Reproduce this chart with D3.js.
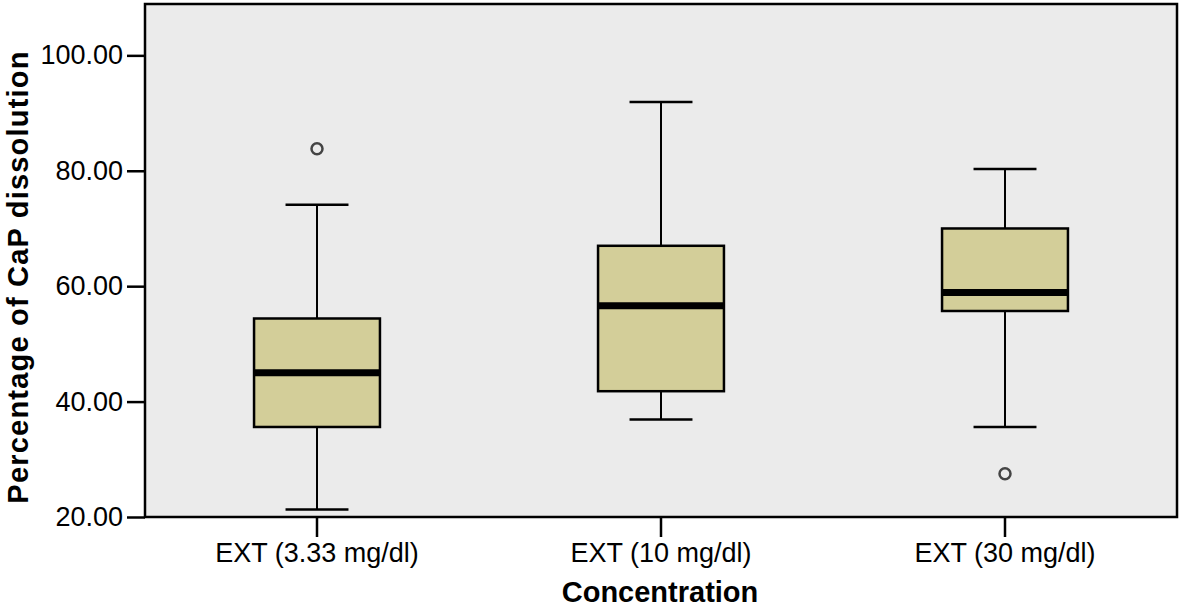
<!DOCTYPE html>
<html lang="en">
<head>
    <meta charset="UTF-8">
    <title>Percentage of CaP dissolution</title>
    <script src="https://d3js.org/d3.v7.min.js"></script>
    <style>
        body { margin: 0; background: #fff; }
        svg { display: block; font-family: "Liberation Sans", Arial, sans-serif; }
        .tick text { font-size: 27px; fill: #000; }
        .axis-title { font-size: 28px; font-weight: bold; fill: #000; }
    </style>
</head>
<body>
    <svg width="1181" height="609"></svg>
    <script>
        // Данные (оценены по картинке)
        const categories = ["EXT (3.33 mg/dl)", "EXT (10 mg/dl)", "EXT (30 mg/dl)"];
        const whiskerLow = [21.3, 36.9, 35.6];
        const q1 = [35.6, 41.8, 55.7];
        const medians = [45.0, 56.6, 58.9];
        const q3 = [54.4, 67.0, 70.0];
        const whiskerHigh = [74.1, 91.9, 80.3];
        const outliers = [
            { cat: "EXT (3.33 mg/dl)", value: 83.8 },
            { cat: "EXT (30 mg/dl)", value: 27.5 }
        ];
        const yTicks = [20, 40, 60, 80, 100];

        const boxes = categories.map((c, i) => ({
            cat: c, lo: whiskerLow[i], q1: q1[i], med: medians[i], q3: q3[i], hi: whiskerHigh[i]
        }));

        const margin = { left: 145, top: 4, right: 4, bottom: 92 };
        const width = 1181, height = 609;
        const svg = d3.select("svg");

        const x = d3.scaleBand()
            .domain(categories)
            .range([margin.left, width - margin.right])
            .padding(0);

        const y = d3.scaleLinear()
            .domain([20, 108.9])
            .range([height - margin.bottom, margin.top]);

        const boxW = x.bandwidth() * 0.366;
        const capW = boxW / 2;

        // фон области графика
        svg.append("rect")
            .attr("x", margin.left)
            .attr("y", margin.top)
            .attr("width", width - margin.left - margin.right)
            .attr("height", height - margin.top - margin.bottom)
            .attr("fill", "#ebebeb");

        const g = svg.append("g").attr("class", "boxes")
            .selectAll("g")
            .data(boxes)
            .enter().append("g")
            .attr("transform", d => `translate(${x(d.cat) + x.bandwidth() / 2},0)`);

        // усы
        g.append("line")
            .attr("x1", 0).attr("x2", 0)
            .attr("y1", d => y(d.hi)).attr("y2", d => y(d.q3))
            .attr("stroke", "#000").attr("stroke-width", 2);
        g.append("line")
            .attr("x1", 0).attr("x2", 0)
            .attr("y1", d => y(d.q1)).attr("y2", d => y(d.lo))
            .attr("stroke", "#000").attr("stroke-width", 2);
        g.append("line")
            .attr("x1", -capW / 2).attr("x2", capW / 2)
            .attr("y1", d => y(d.hi)).attr("y2", d => y(d.hi))
            .attr("stroke", "#000").attr("stroke-width", 2.5);
        g.append("line")
            .attr("x1", -capW / 2).attr("x2", capW / 2)
            .attr("y1", d => y(d.lo)).attr("y2", d => y(d.lo))
            .attr("stroke", "#000").attr("stroke-width", 2.5);

        // коробки
        g.append("rect")
            .attr("x", -boxW / 2)
            .attr("width", boxW)
            .attr("y", d => y(d.q3))
            .attr("height", d => y(d.q1) - y(d.q3))
            .attr("fill", "#d3ce99")
            .attr("stroke", "#000")
            .attr("stroke-width", 2.5);

        // медиана
        g.append("line")
            .attr("x1", -boxW / 2).attr("x2", boxW / 2)
            .attr("y1", d => y(d.med)).attr("y2", d => y(d.med))
            .attr("stroke", "#000").attr("stroke-width", 7);

        // выбросы
        svg.append("g").attr("class", "outliers")
            .selectAll("circle")
            .data(outliers)
            .enter().append("circle")
            .attr("cx", d => x(d.cat) + x.bandwidth() / 2)
            .attr("cy", d => y(d.value))
            .attr("r", 5.5)
            .attr("fill", "#ebebeb")
            .attr("stroke", "#444")
            .attr("stroke-width", 2.5);

        // рамка
        svg.append("rect")
            .attr("x", margin.left)
            .attr("y", margin.top)
            .attr("width", width - margin.left - margin.right)
            .attr("height", height - margin.top - margin.bottom)
            .attr("fill", "none")
            .attr("stroke", "#000")
            .attr("stroke-width", 2.5);

        // оси
        const yAxis = svg.append("g")
            .attr("transform", `translate(${margin.left},0)`)
            .call(d3.axisLeft(y).tickValues(yTicks).tickFormat(d3.format(".2f")).tickSize(18).tickPadding(4));
        const xAxis = svg.append("g")
            .attr("transform", `translate(0,${height - margin.bottom})`)
            .call(d3.axisBottom(x).tickSize(20).tickPadding(6));

        [yAxis, xAxis].forEach(a => {
            a.select(".domain").remove();
            a.selectAll(".tick line").attr("stroke", "#000").attr("stroke-width", 2.5);
            a.attr("font-size", null).attr("font-family", null);
        });

        // подписи осей
        svg.append("text")
            .attr("class", "axis-title")
            .attr("x", x.range()[0] + (x.range()[1] - x.range()[0]) / 2 - 1)
            .attr("y", 602)
            .attr("text-anchor", "middle")
            .style("font-size", "29px")
            .text("Concentration");

        svg.append("text")
            .attr("class", "axis-title")
            .attr("transform", `translate(28,${277}) rotate(-90)`)
            .attr("text-anchor", "middle")
            .style("font-size", "29px")
            .style("letter-spacing", "1.2px")
            .text("Percentage of CaP dissolution");
    </script>
</body>
</html>
